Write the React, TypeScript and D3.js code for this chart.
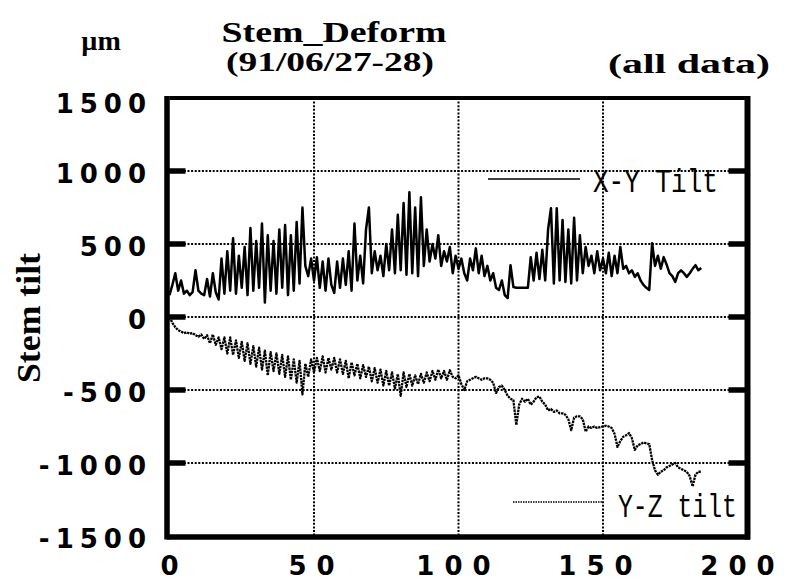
import { useEffect, useRef } from "react";
import * as d3 from "d3";

// X-Y tilt, one reading per time step (0..184)
const xyTilt = [
  150, 220, 300, 180, 250, 160, 180, 150, 170, 320,
  180, 160, 150, 260, 140, 300, 170, 120, 400, 160,
  450, 180, 540, 160, 420, 200, 480, 150, 610, 180,
  520, 200, 640, 100, 560, 180, 520, 160, 600, 200,
  630, 150, 560, 180, 650, 230, 750, 350, 280, 400,
  250, 410, 200, 380, 180, 400, 220, 165, 380, 200,
  400, 220, 450, 180, 640, 250, 420, 230, 600, 750,
  300, 450, 320, 420, 280, 500, 320, 600, 300, 700,
  320, 780, 290, 855, 300, 750, 280, 820, 350, 600,
  380, 500, 400, 560, 350, 450, 380, 480, 300, 420,
  330, 400, 300, 250, 400, 320, 470, 300, 420, 280,
  350, 250, 300, 200, 185, 250, 150, 130, 355, 205,
  200, 200, 200, 200, 200, 410, 250, 440, 260, 460,
  250, 600, 745, 230, 745, 250, 665, 240, 600, 230,
  680, 250, 560, 300, 480, 350, 420, 300, 450, 320,
  400, 300, 440, 280, 420, 300, 480, 330, 350, 300,
  320, 275, 300, 250, 220, 200, 185, 505, 350, 420,
  330, 410, 360, 300, 280, 240, 300, 320, 300, 275,
  300, 330, 355, 320, 335,
];

// Y-Z tilt, same time steps
const yzTilt = [
  0, -40, -70, -90, -100, -110, -105, -115, -110, -125,
  -135, -120, -150, -125, -180, -120, -190, -140, -220, -140,
  -250, -140, -260, -160, -280, -170, -300, -180, -320, -200,
  -340, -210, -360, -230, -400, -240, -370, -250, -390, -260,
  -410, -270, -430, -290, -450, -300, -530, -320, -410, -290,
  -380, -280, -370, -270, -380, -280, -360, -280, -380, -290,
  -390, -300, -420, -310, -400, -320, -420, -330, -410, -340,
  -440, -350, -450, -360, -470, -370, -470, -380, -490, -390,
  -540, -380, -480, -390, -470, -400, -460, -390, -450, -380,
  -440, -370, -430, -360, -420, -370, -430, -365, -410, -420,
  -400, -460, -500, -440, -430, -420, -410, -420, -430, -420,
  -420, -430, -450, -520, -480, -470, -500, -540, -560, -570,
  -740, -600, -560, -580, -560, -600, -580, -550, -545, -580,
  -600, -640, -630, -650, -640, -660, -660, -670, -700, -775,
  -690, -680, -680, -700, -785, -750, -760, -750, -760, -755,
  -750, -745, -750, -760, -800, -890, -850, -820, -810, -795,
  -830, -910, -880, -870, -860, -865, -870, -980, -1050, -1080,
  -1060, -1050, -1030, -1020, -1010, -1000, -1030, -1040, -1050, -1060,
  -1090, -1160, -1080, -1060, -1060,
];

const xTicks = [0, 50, 100, 150, 200];
const yTicks = [1500, 1000, 500, 0, -500, -1000, -1500];

export default function App() {
  const svgRef = useRef<SVGSVGElement>(null);

  useEffect(() => {
    if (!svgRef.current) return;
    const svg = d3.select(svgRef.current);
    svg.selectAll("*").remove();

    const x = d3.scaleLinear().domain([0, 200]).range([169.5, 747.5]);
    const y = d3.scaleLinear().domain([-1500, 1500]).range([536, 98]);

    const tickFont = "'DejaVu Sans', Arial, sans-serif";
    const serif = "'Liberation Serif', 'Times New Roman', serif";
    const mono = "'Liberation Mono', 'DejaVu Sans Mono', monospace";

    // dotted grid
    svg.append("g")
      .selectAll("line")
      .data(xTicks.slice(1, -1))
      .join("line")
      .attr("x1", (d) => x(d))
      .attr("x2", (d) => x(d))
      .attr("y1", y(1500))
      .attr("y2", y(-1500))
      .attr("stroke", "#000")
      .attr("stroke-width", 2)
      .attr("stroke-dasharray", "2,1.6");

    svg.append("g")
      .selectAll("line")
      .data(yTicks.slice(1, -1))
      .join("line")
      .attr("x1", x(0))
      .attr("x2", x(200))
      .attr("y1", (d) => y(d))
      .attr("y2", (d) => y(d))
      .attr("stroke", "#000")
      .attr("stroke-width", 2)
      .attr("stroke-dasharray", "2,1.6");

    // thick inner ticks on both sides
    const tk = svg.append("g").attr("stroke", "#000").attr("stroke-width", 5.5);
    yTicks.slice(1, -1).forEach((d) => {
      tk.append("line").attr("x1", x(0) - 3).attr("x2", x(0) + 16).attr("y1", y(d)).attr("y2", y(d));
      tk.append("line").attr("x1", x(200) - 19).attr("x2", x(200)).attr("y1", y(d)).attr("y2", y(d));
    });

    // series
    const line = d3
      .line<number>()
      .x((_, i) => x(i))
      .y((d) => y(d));

    svg.append("path")
      .datum(yzTilt)
      .attr("d", line)
      .attr("fill", "none")
      .attr("stroke", "#000")
      .attr("stroke-width", 2.3)
      .attr("stroke-dasharray", "2.4,0.8")
      .attr("stroke-linejoin", "round");

    svg.append("path")
      .datum(xyTilt)
      .attr("d", line)
      .attr("fill", "none")
      .attr("stroke", "#000")
      .attr("stroke-width", 2.5)
      .attr("stroke-linejoin", "round");

    // frame
    svg.append("line").attr("x1", x(0)).attr("x2", x(200)).attr("y1", y(1500)).attr("y2", y(1500))
      .attr("stroke", "#000").attr("stroke-width", 4);
    svg.append("line").attr("x1", x(0) - 2.5).attr("x2", x(200) + 2.5).attr("y1", y(-1500) + 1).attr("y2", y(-1500) + 1)
      .attr("stroke", "#000").attr("stroke-width", 5.5);
    svg.append("line").attr("x1", x(0) - 2.5).attr("x2", x(0) - 2.5).attr("y1", y(1500) - 2).attr("y2", y(-1500) + 3.5)
      .attr("stroke", "#000").attr("stroke-width", 5.5);
    svg.append("line").attr("x1", x(200)).attr("x2", x(200)).attr("y1", y(1500) - 2).attr("y2", y(-1500) + 3.5)
      .attr("stroke", "#000").attr("stroke-width", 6);

    // y tick labels
    svg.append("g")
      .selectAll("text")
      .data(yTicks)
      .join("text")
      .attr("x", 152)
      .attr("y", (d) => y(d) + (d === 1500 ? 15 : 12))
      .attr("text-anchor", "end")
      .attr("font-family", tickFont)
      .attr("font-weight", "bold")
      .attr("font-size", 26)
      .attr("letter-spacing", 6)
      .text((d) => String(d));

    // x tick labels
    svg.append("g")
      .selectAll("text")
      .data(xTicks)
      .join("text")
      .attr("x", (d) => x(d) - d * 0.05 + 5)
      .attr("y", 575)
      .attr("text-anchor", "middle")
      .attr("font-family", tickFont)
      .attr("font-weight", "bold")
      .attr("font-size", 26)
      .attr("letter-spacing", 10)
      .text((d) => String(d));

    // titles
    svg.append("text").attr("x", 334).attr("y", 42).attr("text-anchor", "middle")
      .attr("font-family", serif).attr("font-weight", "bold").attr("font-size", 29)
      .attr("textLength", 225).attr("lengthAdjust", "spacingAndGlyphs").text("Stem_Deform");
    svg.append("text").attr("x", 330).attr("y", 71).attr("text-anchor", "middle")
      .attr("font-family", serif).attr("font-weight", "bold").attr("font-size", 27)
      .attr("textLength", 208).attr("lengthAdjust", "spacingAndGlyphs").text("(91/06/27-28)");
    svg.append("text").attr("x", 101).attr("y", 50).attr("text-anchor", "middle")
      .attr("font-family", serif).attr("font-weight", "bold").attr("font-size", 28).text("µm");
    svg.append("text").attr("x", 689).attr("y", 73).attr("text-anchor", "middle")
      .attr("font-family", serif).attr("font-weight", "bold").attr("font-size", 27)
      .attr("textLength", 162).attr("lengthAdjust", "spacingAndGlyphs").text("(all data)");
    svg.append("text").attr("transform", "translate(40,318) rotate(-90)").attr("text-anchor", "middle")
      .attr("font-family", serif).attr("font-weight", "bold").attr("font-size", 33)
      .attr("textLength", 130).attr("lengthAdjust", "spacingAndGlyphs").text("Stem tilt");

    // legend
    svg.append("line").attr("x1", 488).attr("x2", 580).attr("y1", 179).attr("y2", 179)
      .attr("stroke", "#000").attr("stroke-width", 1.6);
    svg.append("text").attr("transform", "translate(593,192) scale(1,1.3)")
      .attr("font-family", mono).attr("font-size", 25)
      .attr("textLength", 125).attr("lengthAdjust", "spacingAndGlyphs").text("X-Y Tilt");
    svg.append("line").attr("x1", 513).attr("x2", 602).attr("y1", 502).attr("y2", 502)
      .attr("stroke", "#000").attr("stroke-width", 1.6).attr("stroke-dasharray", "1.5,1");
    svg.append("text").attr("transform", "translate(618,517) scale(1,1.3)")
      .attr("font-family", mono).attr("font-size", 25)
      .attr("textLength", 119).attr("lengthAdjust", "spacingAndGlyphs").text("Y-Z tilt");
  }, []);

  return (
    <svg
      ref={svgRef}
      width={788}
      height={583}
      style={{ position: "absolute", left: 0, top: 0, background: "#fff" }}
    />
  );
}
